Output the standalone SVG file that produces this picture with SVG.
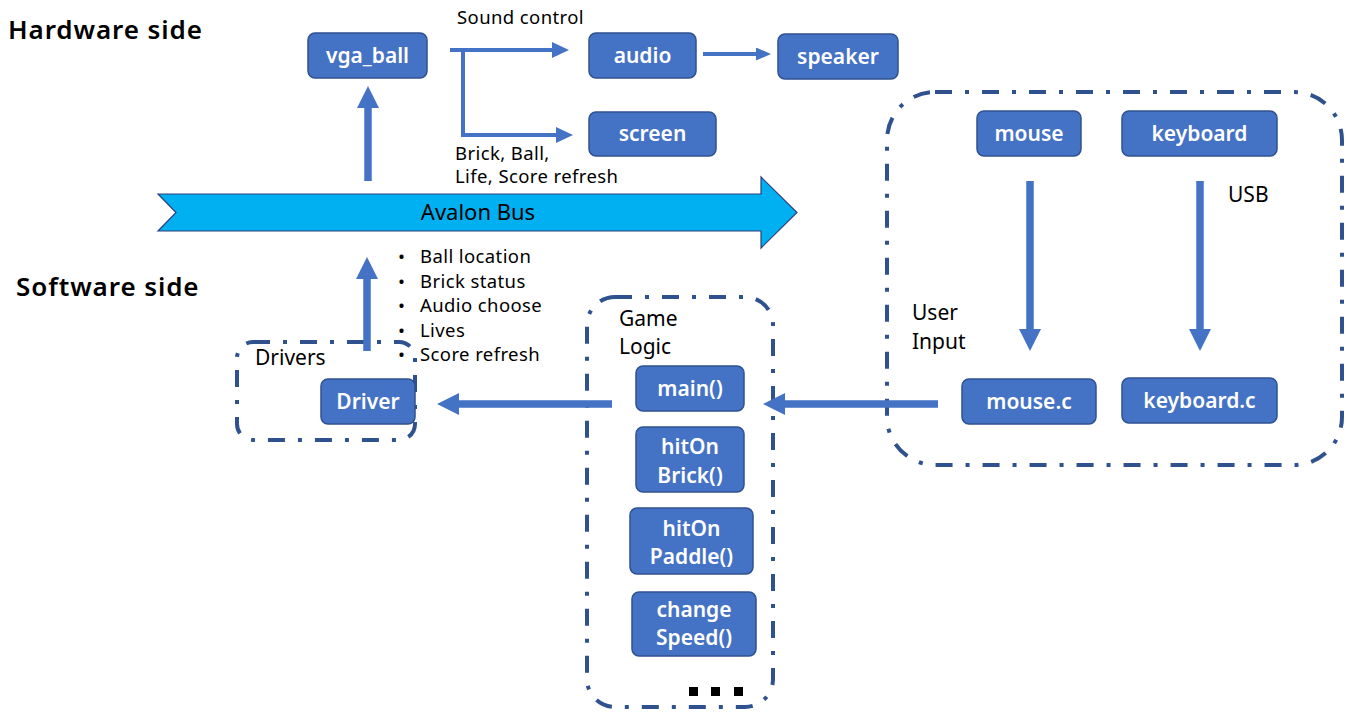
<svg xmlns="http://www.w3.org/2000/svg" width="1348" height="719" viewBox="0 0 1348 719">
  <style>
    text { font-family: "Noto Sans", "Open Sans", "Liberation Sans", sans-serif; fill: #000; }
    .node rect { fill: #4472C4; stroke: #2F528F; stroke-width: 1.5; }
    .node text { fill: #fff; font-size: 21px; font-weight: 600; text-anchor: middle; }
    .side { font-size: 26px; font-weight: 600; letter-spacing: 0.9px; }
    .lbl { font-size: 18.5px; letter-spacing: 0.4px; }
    .glbl { font-size: 21px; }
    .group { fill: none; stroke: #2F528F; stroke-width: 4; stroke-dasharray: 17 13 4 13; }
    .thin { fill: none; stroke: #4472C4; stroke-width: 4; }
    .thick { fill: #4472C4; }
  </style>
  <defs>
    <marker id="head" viewBox="0 0 17 16" refX="7" refY="8" markerWidth="17" markerHeight="16" markerUnits="userSpaceOnUse" orient="auto">
      <path d="M0,0 L17,8 L0,16 Z" fill="#4472C4"/>
    </marker>
    <marker id="headSmall" viewBox="0 0 15 13" refX="6" refY="6.5" markerWidth="15" markerHeight="13" markerUnits="userSpaceOnUse" orient="auto">
      <path d="M0,0 L15,6.5 L0,13 Z" fill="#4472C4"/>
    </marker>
  </defs>

  <rect width="1348" height="719" fill="#fff"/>

  <!-- side headings -->
  <text class="side" x="8" y="39">Hardware side</text>
  <text class="side" x="16" y="296">Software side</text>

  <!-- dash-dot grouping frames -->
  <g id="user-input">
    <rect class="group" x="887" y="92" width="455" height="373" rx="48"/>
    <text class="glbl" x="912" y="320">User</text>
    <text class="glbl" x="912" y="349">Input</text>
  </g>
  <g id="game-logic">
    <rect class="group" x="587" y="297" width="186" height="410" rx="28"/>
    <text class="glbl" x="619" y="326">Game</text>
    <text class="glbl" x="619" y="354">Logic</text>
    <rect x="689" y="687" width="9" height="9" fill="#000"/>
    <rect x="711" y="687" width="9" height="9" fill="#000"/>
    <rect x="734" y="687" width="9" height="9" fill="#000"/>
  </g>
  <g id="drivers">
    <rect class="group" x="237" y="342" width="178" height="98" rx="16"/>
    <text class="glbl" x="255" y="365">Drivers</text>
  </g>

  <!-- system bus -->
  <g id="avalon-bus">
    <path d="M158,194 H761 V177 L797,212.5 L761,248 V231 H158 L176,212.5 Z" fill="#00B0F0" stroke="#2F3F7F" stroke-width="1.2"/>
    <text x="478" y="220" font-size="22" text-anchor="middle">Avalon Bus</text>
  </g>

  <!-- connectors -->
  <g id="connectors">
    <path class="thin" d="M450,50 H559" marker-end="url(#head)"/>
    <path class="thin" d="M463,48 V135 H563" marker-end="url(#head)"/>
    <path class="thin" d="M703,54 H762" marker-end="url(#headSmall)"/>
    <path class="thick" d="M364.25,181 V108 H357 L368,86 L379,108 H371.75 V181 Z"/>
    <path class="thick" d="M363.25,351 V279 H356 L367,257 L378,279 H370.75 V351 Z"/>
    <path class="thick" d="M1026.25,181 V329 H1019 L1030,351 L1041,329 H1033.75 V181 Z"/>
    <path class="thick" d="M1196.25,181 V329 H1189 L1200,351 L1211,329 H1203.75 V181 Z"/>
    <path class="thick" d="M612,400.25 H459 V393 L437,404 L459,415 V407.75 H612 Z"/>
    <path class="thick" d="M938,400.25 H785 V393 L763,404 L785,415 V407.75 H938 Z"/>
  </g>

  <!-- connector labels -->
  <g id="labels">
    <text class="lbl" x="457" y="24">Sound control</text>
    <text class="lbl" x="455" y="160">Brick, Ball,</text>
    <text class="lbl" x="455" y="183">Life, Score refresh</text>
    <text class="glbl" x="1228" y="202">USB</text>
    <g class="lbl">
      <text x="398" y="263">•</text><text x="420" y="263">Ball location</text>
      <text x="398" y="288">•</text><text x="420" y="288">Brick status</text>
      <text x="398" y="312">•</text><text x="420" y="312">Audio choose</text>
      <text x="398" y="337">•</text><text x="420" y="337">Lives</text>
      <text x="398" y="361">•</text><text x="420" y="361">Score refresh</text>
    </g>
  </g>

  <!-- hardware nodes -->
  <g id="vga_ball" class="node"><rect x="308" y="33" width="119" height="45" rx="7"/><text x="367.5" y="63">vga_ball</text></g>
  <g id="audio" class="node"><rect x="589" y="33" width="107" height="45" rx="7"/><text x="642.5" y="63">audio</text></g>
  <g id="speaker" class="node"><rect x="778" y="34" width="120" height="45" rx="7"/><text x="838" y="64">speaker</text></g>
  <g id="screen" class="node"><rect x="589" y="112" width="127" height="44" rx="7"/><text x="652.5" y="141">screen</text></g>

  <!-- input nodes -->
  <g id="mouse" class="node"><rect x="977" y="111" width="104" height="45" rx="7"/><text x="1029" y="141">mouse</text></g>
  <g id="keyboard" class="node"><rect x="1122" y="111" width="155" height="45" rx="7"/><text x="1199.5" y="141">keyboard</text></g>
  <g id="mouse_c" class="node"><rect x="962" y="379" width="134" height="45" rx="7"/><text x="1029" y="409">mouse.c</text></g>
  <g id="keyboard_c" class="node"><rect x="1122" y="378" width="155" height="45" rx="7"/><text x="1199.5" y="408">keyboard.c</text></g>

  <!-- software nodes -->
  <g id="driver" class="node"><rect x="321" y="379" width="94" height="45" rx="7"/><text x="368" y="409">Driver</text></g>
  <g id="main" class="node"><rect x="636" y="366" width="108" height="45" rx="7"/><text x="690" y="396">main()</text></g>
  <g id="hitOnBrick" class="node"><rect x="636" y="427" width="108" height="65" rx="7"/><text x="690" y="454">hitOn</text><text x="690" y="483">Brick()</text></g>
  <g id="hitOnPaddle" class="node"><rect x="630" y="508" width="123" height="66" rx="7"/><text x="691.5" y="536">hitOn</text><text x="691.5" y="564">Paddle()</text></g>
  <g id="changeSpeed" class="node"><rect x="632" y="592" width="124" height="64" rx="7"/><text x="694" y="617">change</text><text x="694" y="645">Speed()</text></g>
</svg>
